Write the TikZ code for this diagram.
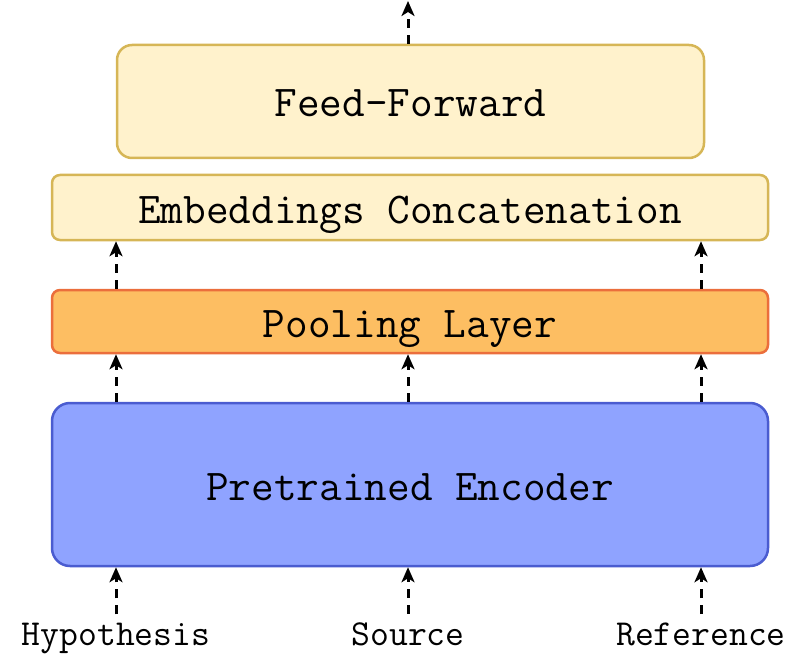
\documentclass[tikz,border=0pt]{standalone}
\usepackage{fontspec}
\usetikzlibrary{arrows.meta}
\definecolor{ffFill}{HTML}{FFF2CC}
\definecolor{ffDraw}{HTML}{D6B656}
\definecolor{poolFill}{HTML}{FDBE62}
\definecolor{poolDraw}{HTML}{EB6E3C}
\definecolor{encFill}{HTML}{8FA3FF}
\definecolor{encDraw}{HTML}{4A5CD0}
\begin{document}
\begin{tikzpicture}
[
 x=1pt, y=-1pt,
 line width=2.5pt,
 >={Stealth[length=15pt,width=13pt,inset=4pt]},
 font=\ttfamily\fontsize{44}{46}\selectfont,
 layer/.style={draw,rectangle,rounded corners=12pt,minimum width=716pt,inner sep=0pt,text height=31pt,text depth=0pt},
 yellow/.style={layer,fill=ffFill,draw=ffDraw},
 flow/.style={->,line width=3pt,dash pattern=on 9pt off 7pt},
 input/.style={font=\ttfamily\fontsize{36.6}{38}\selectfont,inner sep=0pt,anchor=base}
]
\useasboundingbox (0,0) rectangle (810,660);
\node (ff) [yellow,minimum width=587pt,minimum height=113pt,rounded corners=15pt] at (410.5,101.5) {Feed-Forward};
\node (emb) [yellow,minimum height=65pt,rounded corners=8pt] at (410,207.5) {Embeddings Concatenation};
\node (pool) [layer,fill=poolFill,draw=poolDraw,minimum height=63pt,rounded corners=8pt] at (410,321.5) {Pooling Layer};
\node (enc) [layer,fill=encFill,draw=encDraw,minimum height=163pt,rounded corners=18pt] at (410,484.5) {Pretrained Encoder};
\node (hyp) [input] at (116,645) {Hypothesis};
\node (src) [input] at (408,645) {Source};
\node (ref) [input] at (701,645) {Reference};
\coordinate (out) at (408,1);
\draw[flow,shorten <=7pt] (hyp.north) -- (hyp |- enc.south);
\draw[flow,shorten <=7pt] (src.north) -- (src |- enc.south);
\draw[flow,shorten <=7pt] (ref.north) -- (ref |- enc.south);
\draw[flow] (hyp |- enc.north) -- (hyp |- pool.south);
\draw[flow] (src |- enc.north) -- (src |- pool.south);
\draw[flow] (ref |- enc.north) -- (ref |- pool.south);
\draw[flow] (hyp |- pool.north) -- (hyp |- emb.south);
\draw[flow] (ref |- pool.north) -- (ref |- emb.south);
\draw[flow] (ff.north -| out) -- (out);
\end{tikzpicture}
\end{document}
